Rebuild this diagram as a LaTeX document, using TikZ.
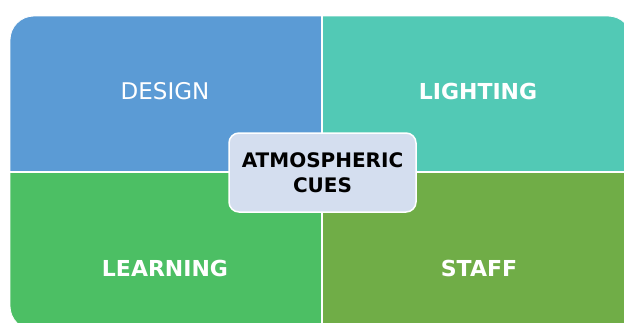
\documentclass[tikz,border=0pt]{standalone}
\usepackage{fontspec}
\setmainfont{DejaVu Sans}
\definecolor{qblue}{RGB}{91,155,213}
\definecolor{qteal}{RGB}{82,201,181}
\definecolor{qgreen}{RGB}{76,191,100}
\definecolor{qolive}{RGB}{112,173,71}
\definecolor{qcenter}{RGB}{212,222,239}
\begin{document}
\begin{tikzpicture}[x=1pt,y=-1pt,
  lbl/.style={text=white,font=\fontsize{23}{27}\selectfont,inner sep=0pt},
  blbl/.style={lbl,font=\fontsize{22}{26}\selectfont\bfseries},
  centerbox/.style={draw=white,line width=1.5pt,fill=qcenter,rounded corners=10pt,minimum width=187pt,minimum height=79pt,align=center,font=\fontsize{20}{25}\selectfont\bfseries,text=black}]
\useasboundingbox (0,0) rectangle (624,322);
\begin{scope}
  \clip[rounded corners=24pt] (10,16) rectangle (632,330);
  \fill[qblue] (10,16) rectangle (322,172);
  \fill[qteal] (322,16) rectangle (632,172);
  \fill[qgreen] (10,172) rectangle (322,330);
  \fill[qolive] (322,172) rectangle (632,330);
  \draw[white,line width=1.5pt] (322,16) -- (322,330);
  \draw[white,line width=1.5pt] (10,172) -- (632,172);
\end{scope}
\draw[white,line width=0.8pt,rounded corners=24pt] (10,16) rectangle (632,330);
\node[lbl] (design) at (165,91) {DESIGN};
\node[blbl] (lighting) at (478,91) {LIGHTING};
\node[blbl] (learning) at (165,268) {LEARNING};
\node[blbl] (staff) at (479,268) {STAFF};
\node[centerbox] (cues) at (322.5,172.5) {ATMOSPHERIC\\CUES};
\end{tikzpicture}
\end{document}
